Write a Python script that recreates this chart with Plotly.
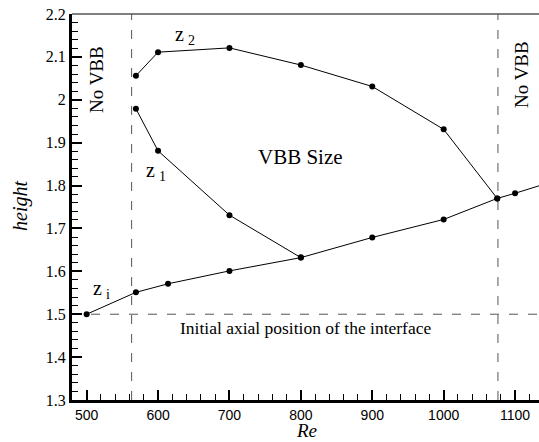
import plotly.graph_objects as go

# Interface height data versus Reynolds number
re_zi = [500, 569, 614, 700, 800, 900, 1000, 1075, 1100, 1150]
h_zi = [1.500, 1.551, 1.571, 1.601, 1.632, 1.679, 1.721, 1.770, 1.782, 1.808]

re_z1 = [569, 600, 700, 800]
h_z1 = [1.979, 1.881, 1.731, 1.632]

re_z2 = [569, 600, 700, 800, 900, 1000, 1075]
h_z2 = [2.056, 2.111, 2.121, 2.081, 2.031, 1.931, 1.770]

re_limits = [563, 1076]
h_initial = 1.5

x_ticks = [500, 600, 700, 800, 900, 1000, 1100]
y_ticks = [1.3, 1.4, 1.5, 1.6, 1.7, 1.8, 1.9, 2.0, 2.1, 2.2]
y_ticklabels = ["1.3", "1.4", "1.5", "1.6", "1.7", "1.8", "1.9", "2", "2.1", "2.2"]

X_RANGE = [479.5, 1133.5]
Y_RANGE = [1.3, 2.2]

SERIF = "Liberation Serif"
SANS = "Liberation Sans"

fig = go.Figure()

line_style = dict(color="black", width=1)
marker_style = dict(color="black", size=6)

for xs, ys in [(re_zi, h_zi), (re_z1, h_z1), (re_z2, h_z2)]:
    fig.add_trace(go.Scatter(x=xs, y=ys, mode="lines+markers",
                             line=line_style, marker=marker_style,
                             showlegend=False, hoverinfo="skip"))

# Reference dashed lines
dash_style = dict(color="#555555", width=1, dash="9px,10px")
fig.add_shape(type="line", xref="x", yref="y", x0=X_RANGE[0], x1=X_RANGE[1],
              y0=h_initial, y1=h_initial, line=dash_style, layer="below")
for xv in re_limits:
    fig.add_shape(type="line", xref="x", yref="y", x0=xv, x1=xv,
                  y0=Y_RANGE[0], y1=Y_RANGE[1], line=dash_style, layer="below")

# Top frame line
fig.add_shape(type="line", xref="paper", yref="paper", x0=0, x1=1, y0=1, y1=1,
              line=dict(color="#555555", width=1.5))

W, H = 539, 442
L, R, T, B = 72, 0, 14, 42
pw, ph = W - L - R, H - T - B

annotations = [
    dict(x=97, y=80, text="No VBB", textangle=-90, size=19),
    dict(x=521, y=75, text="No VBB", textangle=-90, size=19),
    dict(x=185, y=36, text="z\u2009<sub>2</sub>", size=20),
    dict(x=156, y=171, text="z\u2009<sub>1</sub>", size=20),
    dict(x=101, y=289, text="z\u2009<sub>i</sub>", size=20),
    dict(x=300, y=157, text="VBB Size", size=21),
    dict(x=305, y=328, text="Initial axial position of the interface", size=17.5),
    dict(x=306, y=430, text="<i>Re</i>", size=19),
    dict(x=20, y=206, text="<i>height</i>", textangle=-90, size=20),
]
for a in annotations:
    fig.add_annotation(
        xref="paper", yref="paper",
        x=(a["x"] - L) / pw, y=1 - (a["y"] - T) / ph,
        text=a["text"], textangle=a.get("textangle", 0),
        showarrow=False, xanchor="center", yanchor="middle", borderpad=0,
        font=dict(family=SERIF, size=a["size"], color="black"),
    )

fig.update_layout(
    width=W, height=H,
    margin=dict(l=L, r=R, t=T, b=B, pad=0),
    paper_bgcolor="white", plot_bgcolor="white",
    xaxis=dict(range=X_RANGE, tickvals=x_ticks, showgrid=False, zeroline=False,
               showline=True, linecolor="black", linewidth=3,
               ticks="inside", ticklen=10, tickwidth=2, tickcolor="black",
               tickfont=dict(family=SANS, size=14, color="black"),
               minor=dict(dtick=20, ticks="inside", ticklen=6, tickwidth=1,
                          tickcolor="black", showgrid=False)),
    yaxis=dict(range=Y_RANGE, tickvals=y_ticks, ticktext=y_ticklabels,
               showgrid=False, zeroline=False,
               showline=True, linecolor="black", linewidth=3,
               ticks="inside", ticklen=10, tickwidth=2, tickcolor="black",
               tickfont=dict(family=SERIF, size=16, color="black"),
               minor=dict(dtick=0.02, tick0=1.3, ticks="inside", ticklen=6, tickwidth=1,
                          tickcolor="black", showgrid=False)),
)

fig.write_html("out.html")
